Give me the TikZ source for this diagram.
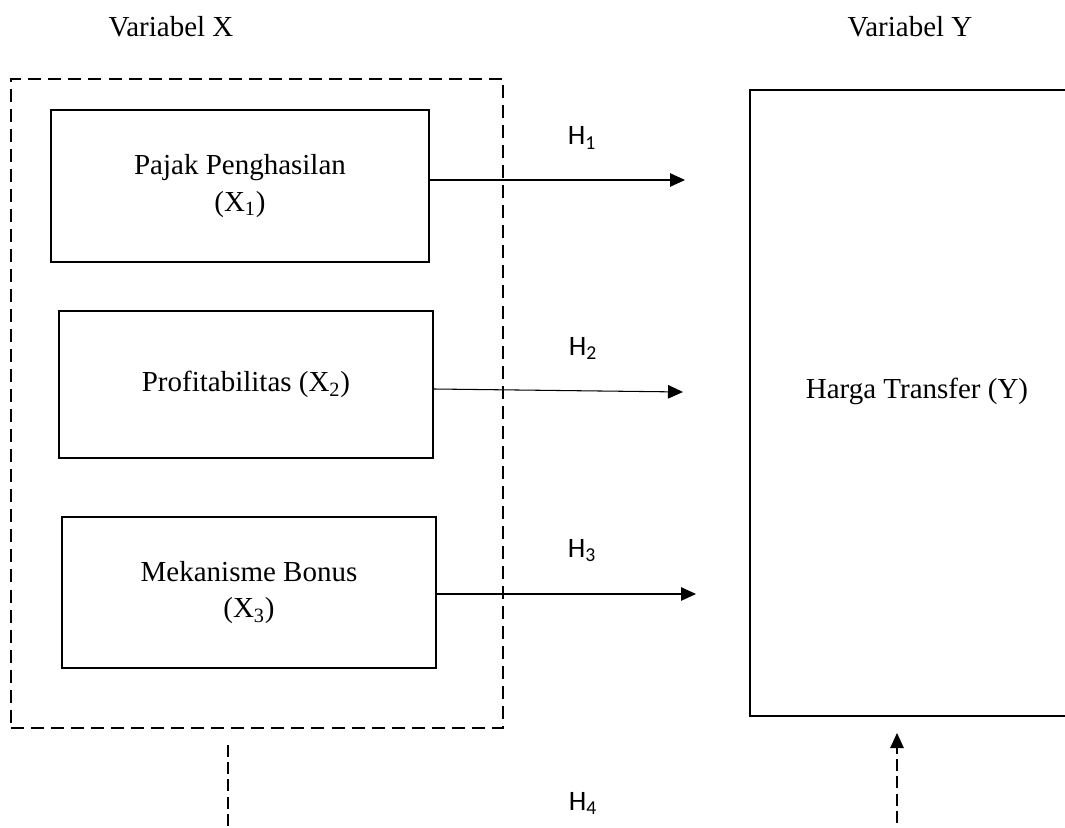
\documentclass[tikz,border=0pt]{standalone}
\usepackage{fontspec}
\setmainfont{Liberation Serif}
\newfontfamily\hfont{Carlito}
\usetikzlibrary{arrows.meta}

\begin{document}
\begin{tikzpicture}[x=0.02cm, y=-0.02cm,
  font=\fontsize{16.5}{21}\selectfont,
  block/.style={draw, line width=1.1pt, align=center, inner sep=0pt},
  group/.style={draw, line width=0.85pt, dash pattern=on 7.4pt off 4pt},
  link/.style={-{Triangle[length=0.3cm,width=0.27cm]}, line width=0.6pt},
  dotlink/.style={line width=0.6pt, dash pattern=on 6.8pt off 3pt},
  hyp/.style={font=\hfont\fontsize{16}{19}\selectfont, anchor=base}]

  \useasboundingbox (0,0) rectangle (1065,828);
  \clip (0,0) rectangle (1065,828);

  % Headings
  \node[anchor=base] (VX) at (171,37) {Variabel X};
  \node[anchor=base] (VY) at (910,37) {Variabel Y};

  % Variabel X group
  \node[group, minimum width=9.84cm, minimum height=12.98cm] (X) at (257,403.5) {};
  \node[block, minimum width=7.56cm, minimum height=3.04cm] (X1) at (240,186) {Pajak Penghasilan\\(X\textsubscript{1})};
  \node[block, minimum width=7.48cm, minimum height=2.94cm] (X2) at (246,384.5) {Profitabilitas (X\textsubscript{2})};
  \node[block, minimum width=7.48cm, minimum height=3.02cm] (X3) at (249,592.5) {Mekanisme Bonus\\(X\textsubscript{3})};

  % Variabel Y
  \node[block, minimum width=6.68cm, minimum height=12.52cm] (Y) at (917,403) {};
  \node[anchor=base] (YT) at (917,398) {Harga Transfer (Y)};

  % Arrow ends
  \coordinate (t1) at (685,180);
  \coordinate (t2) at (683,392);
  \coordinate (t3) at (696,594);
  \coordinate (b1) at (228,745);
  \coordinate (b2) at (228,840);
  \coordinate (c1) at (897,840);
  \coordinate (c2) at (897,733);

  % Partial arrows
  \draw[link] (X1.east |- t1) -- (t1);
  \draw[link] ([yshift=-0.09cm]X2.east) -- (t2);
  \draw[link] (X3.east |- t3) -- (t3);

  % Simultaneous
  \draw[dotlink] (b1) -- (b2);
  \draw[link, dotlink] (c1) -- (c2);

  % Labels
  \node[hyp] (H1) at (582,145) {H\textsubscript{1}};
  \node[hyp] (H2) at (583,355) {H\textsubscript{2}};
  \node[hyp] (H3) at (582,557) {H\textsubscript{3}};
  \node[hyp] (H4) at (583,810) {H\textsubscript{4}};

\end{tikzpicture}
\end{document}
